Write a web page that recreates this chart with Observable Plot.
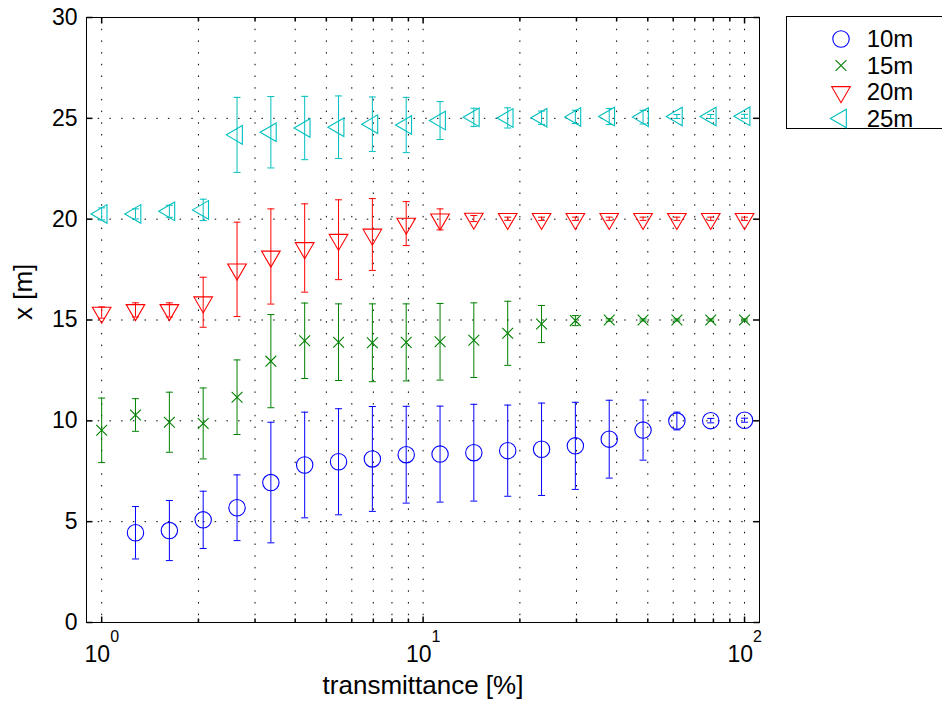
<!DOCTYPE html>
<html><head><meta charset="utf-8">
<script src="https://cdn.jsdelivr.net/npm/d3@7"></script>
<script src="https://cdn.jsdelivr.net/npm/@observablehq/plot@0.6"></script>
<style>
html,body{margin:0;padding:0;background:#fff;}
#chart{position:relative;width:942px;height:702px;overflow:hidden;}
</style>
</head><body><div id="chart"></div>
<script>
// transmittance [%] sample positions
const transmittance = [1, 1.274, 1.624, 2.069, 2.637, 3.360, 4.281, 5.456, 6.952, 8.859,
  11.29, 14.38, 18.33, 23.36, 29.76, 37.93, 48.33, 61.58, 78.48, 100];
const seriesNames = ["10m", "15m", "20m", "25m"];
const seriesColors = ["#0000ff", "#008000", "#ff0000", "#00bfbf"];

const mean10 = [null, 4.45, 4.56, 5.09, 5.69, 6.94, 7.81, 7.97, 8.11, 8.32,
  8.35, 8.42, 8.52, 8.59, 8.76, 9.09, 9.54, 9.99, 10.01, 10.03];
const err10 = [null, 1.30, 1.49, 1.42, 1.63, 2.99, 2.62, 2.63, 2.60, 2.40,
  2.38, 2.40, 2.26, 2.29, 2.16, 1.93, 1.49, 0.44, 0.11, 0.10];

const mean15 = [9.53, 10.29, 9.93, 9.87, 11.17, 12.96, 13.97, 13.90, 13.87, 13.89,
  13.92, 14.00, 14.34, 14.80, 14.97, 15.00, 15.00, 15.00, 15.00, 15.00];
const err15 = [1.60, 0.81, 1.49, 1.76, 1.85, 2.31, 1.87, 1.90, 1.93, 1.91,
  1.90, 1.85, 1.59, 0.92, 0.25, 0.06, 0.05, 0.05, 0.05, 0.05];

const mean20 = [15.37, 15.50, 15.50, 15.88, 17.51, 18.15, 18.57, 18.98, 19.24, 19.78,
  19.99, 20.03, 20.02, 20.02, 20.02, 20.02, 20.02, 20.02, 20.02, 20.02];
const err20 = [0.28, 0.35, 0.35, 1.24, 2.34, 2.36, 2.19, 1.98, 1.78, 1.09,
  0.52, 0.15, 0.08, 0.08, 0.08, 0.08, 0.08, 0.08, 0.08, 0.08];

const mean25 = [20.26, 20.26, 20.39, 20.46, 24.18, 24.31, 24.52, 24.56, 24.71, 24.67,
  24.89, 25.05, 25.02, 25.03, 25.07, 25.09, 25.06, 25.09, 25.09, 25.10];
const err25 = [0.30, 0.25, 0.30, 0.53, 1.86, 1.77, 1.57, 1.55, 1.35, 1.37,
  0.94, 0.45, 0.50, 0.33, 0.33, 0.40, 0.34, 0.10, 0.10, 0.10];

const xMajor = [1, 10, 100];
const xTickExp = ["0", "1", "2"];
const xMinor = [2, 3, 4, 5, 6, 7, 8, 9, 20, 30, 40, 50, 60, 70, 80, 90];
const yTicks = [0, 5, 10, 15, 20, 25, 30];
const yGrid = [5, 10, 15, 20, 25];

// custom marker symbols
const symCircle = {draw(c) { const r = 8.2; c.moveTo(r, 0); c.arc(0, 0, r, 0, 2 * Math.PI); c.closePath(); }};
const symTimes = {draw(c) { const a = 5.4; c.moveTo(-a, -a); c.lineTo(a, a); c.moveTo(-a, a); c.lineTo(a, -a); }};
const symDown = {draw(c) { const w = 9.3, h = 16; c.moveTo(-w, -h / 3); c.lineTo(w, -h / 3); c.lineTo(0, 2 * h / 3); c.closePath(); }};
const symLeft = {draw(c) { const w = 9.3, h = 16; c.moveTo(h / 3, -w); c.lineTo(h / 3, w); c.lineTo(-2 * h / 3, 0); c.closePath(); }};
const symCap = {draw(c) { c.moveTo(-3.5, 0); c.lineTo(3.5, 0); }};
const tickSym = (dx, dy) => ({draw(c) { c.moveTo(0, 0); c.lineTo(dx, dy); }});
const symbols = [symCircle, symTimes, symDown, symLeft];

const means = [mean10, mean15, mean20, mean25];
const errs = [err10, err15, err20, err25];
const rows = [];
means.forEach((m, s) => m.forEach((v, i) => {
  if (v != null) rows.push({series: s, x: transmittance[i], y: v, lo: v - errs[s][i], hi: v + errs[s][i]});
}));

const dotted = {stroke: "black", strokeWidth: 1, strokeDasharray: "1.5,10.2"};
const marks = [
  Plot.ruleX([...xMajor, ...xMinor], {x: d => d, ...dotted}),
  Plot.ruleY(yGrid, {y: d => d, ...dotted}),
  // ticks (inward)
  Plot.dot(xMajor, {x: d => d, frameAnchor: "bottom", symbol: tickSym(0, -6), stroke: "black"}),
  Plot.dot(xMajor, {x: d => d, frameAnchor: "top", symbol: tickSym(0, 6), stroke: "black"}),
  Plot.dot(xMinor, {x: d => d, frameAnchor: "bottom", symbol: tickSym(0, -4), stroke: "black"}),
  Plot.dot(xMinor, {x: d => d, frameAnchor: "top", symbol: tickSym(0, 4), stroke: "black"}),
  Plot.dot(yTicks, {y: d => d, frameAnchor: "left", symbol: tickSym(6, 0), stroke: "black"}),
  Plot.dot(yTicks, {y: d => d, frameAnchor: "right", symbol: tickSym(-6, 0), stroke: "black"}),
];
seriesNames.forEach((name, s) => {
  const d = rows.filter(r => r.series === s);
  const col = seriesColors[s];
  marks.push(
    Plot.ruleX(d, {x: "x", y1: "lo", y2: "hi", stroke: col, strokeWidth: 1}),
    Plot.dot(d, {x: "x", y: "lo", symbol: symCap, stroke: col, fill: "none", strokeWidth: 1}),
    Plot.dot(d, {x: "x", y: "hi", symbol: symCap, stroke: col, fill: "none", strokeWidth: 1}),
    Plot.dot(d, {x: "x", y: "y", symbol: symbols[s], stroke: col, fill: "none", strokeWidth: 1.1})
  );
});
marks.push(
  Plot.frame({stroke: "black", strokeWidth: 1}),
  Plot.axisY(yTicks, {anchor: "left", tickSize: 0, tickPadding: 9, fontSize: 23, label: null, fill: "black"}),
  Plot.text(xMajor, {x: d => d, text: () => "10", frameAnchor: "bottom", textAnchor: "end", lineAnchor: "bottom", dx: 8.5, dy: 39, fontSize: 23, fill: "black"}),
  Plot.text(xMajor, {x: d => d, text: (d, i) => xTickExp[i], frameAnchor: "bottom", textAnchor: "start", lineAnchor: "bottom", dx: 8.5, dy: 19, fontSize: 16, fill: "black"}),
  Plot.text(["transmittance [%]"], {text: d => d, frameAnchor: "bottom", lineAnchor: "bottom", dy: 71, fontSize: 26, fill: "black"}),
  Plot.text(["x [m]"], {text: d => d, frameAnchor: "left", lineAnchor: "bottom", rotate: -90, dx: -55, fontSize: 26, fill: "black"})
);

const chart = Plot.plot({
  width: 942, height: 702,
  marginLeft: 86, marginRight: 183, marginTop: 17, marginBottom: 80,
  x: {type: "log", domain: [0.897, 111.3], axis: null},
  y: {domain: [0, 30], axis: null},
  style: {fontFamily: "'Liberation Sans', Arial, Helvetica, sans-serif", background: "white", overflow: "visible"},
  marks
});
document.getElementById("chart").appendChild(chart);

// legend box (extends past the right edge as in the reference)
const svg = d3.select(chart);
const lg = svg.append("g").attr("font-family", "'Liberation Sans', Arial, sans-serif");
const rowY = [39, 65.5, 92, 118.5];
lg.append("rect").attr("x", 786.5).attr("y", 16.5).attr("width", 200).attr("height", 112)
  .attr("fill", "white").attr("stroke", "black").attr("stroke-width", 1);
seriesNames.forEach((name, s) => {
  lg.append("path").attr("transform", `translate(841,${rowY[s]})`)
    .attr("d", d3.symbol(symbols[s])()).attr("fill", "none")
    .attr("stroke", seriesColors[s]).attr("stroke-width", 1.1);
  lg.append("text").attr("x", 890).attr("y", rowY[s]).attr("dy", "0.35em")
    .attr("font-size", 24).attr("fill", "black").text(name);
});
</script>
</body></html>
